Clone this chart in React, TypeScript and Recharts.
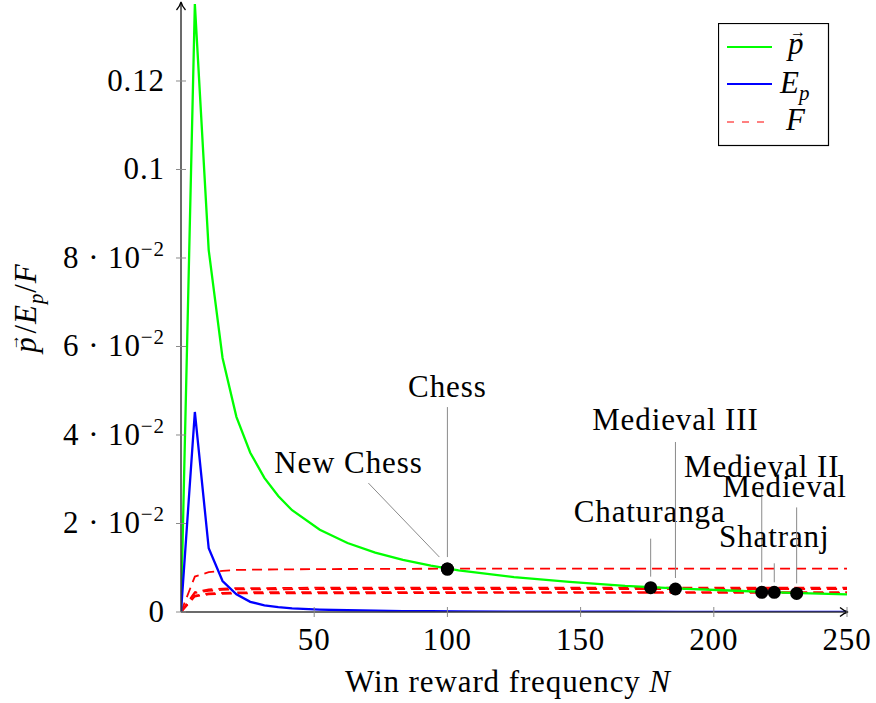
import React from 'react';
import { ComposedChart, Line, Scatter, XAxis, YAxis, ReferenceDot, Legend } from 'recharts';

// ---------- data ----------
const N_SAMPLES = [0, 5.2, 10.4, 15.6, 20.8, 26, 31.3, 36.5, 41.7, 52.1, 62.5, 72.9, 83.3, 93.8, 104.2, 125, 145.8, 166.7, 187.5, 208.3, 229.2, 250];
const P_VALUES = [0, 0.1374, 0.0818, 0.0574, 0.0441, 0.036, 0.0303, 0.0262, 0.023, 0.0186, 0.0156, 0.0134, 0.0118, 0.0105, 0.0094, 0.0079, 0.0068, 0.0059, 0.0053, 0.0048, 0.0043, 0.0040];
const EP_VALUES = [0, 0.0452, 0.0144, 0.0070, 0.0040, 0.0023, 0.0015, 0.0011, 0.0008, 0.00055, 0.0004, 0.0003, 0.00022, 0.00018, 0.00015, 0.0001, 0.00008, 0.00006, 0.00005, 0.00004, 0.00003, 0.00003];

const F_N = [0, 5.2, 10.4, 15.6, 20.8, 31.3, 52.1, 104.2, 250];
const F_CHESS = [0, 0.0080, 0.0090, 0.0093, 0.0095, 0.0096, 0.0097, 0.0098, 0.0098];
const F_CHATURANGA = [0, 0.0045, 0.0051, 0.0053, 0.0054, 0.0054, 0.0055, 0.0055, 0.0055];
const F_MEDIEVAL3 = [0, 0.0043, 0.0048, 0.0050, 0.0051, 0.0051, 0.0052, 0.0052, 0.0052];
const F_MEDIEVAL2 = [0, 0.0037, 0.0042, 0.0043, 0.0044, 0.0045, 0.0045, 0.0045, 0.0045];
const F_MEDIEVAL = [0, 0.0035, 0.0040, 0.0041, 0.0042, 0.0042, 0.0042, 0.0043, 0.0043];

const GAME_NAMES = ['New Chess', 'Chess', 'Chaturanga', 'Medieval III', 'Medieval II', 'Shatranj', 'Medieval'];
const GAME_N = [100, 100, 176.3, 185.6, 218, 222.7, 231.1];
const GAME_F = [0.0097, 0.0097, 0.0055, 0.0052, 0.00445, 0.00445, 0.0042];

const X_TICKS = [50, 100, 150, 200, 250];
const Y_TICKS = [0, 0.02, 0.04, 0.06, 0.08, 0.1, 0.12];
const Y_TICK_BASE = ['0', '2 · 10', '4 · 10', '6 · 10', '8 · 10', '0.1', '0.12'];
const Y_TICK_EXP = ['', '−2', '−2', '−2', '−2', '', ''];
const X_MAX = 250;
const Y_MAX = 0.1374;

// ---------- layout / style (pixels) ----------
const PIN_LAYOUT: Record<string, { lx: number; ly: number; p1: [number, number]; p2: [number, number] }> = {
  'New Chess': { lx: -99, ly: -106, p1: [-8, -12], p2: [-79, -86] },
  'Chess': { lx: 0, ly: -182, p1: [0, -12], p2: [0, -162] },
  'Chaturanga': { lx: -1, ly: -76, p1: [0, -11], p2: [0, -49] },
  'Medieval III': { lx: 0, ly: -169, p1: [0, -11], p2: [0, -147] },
  'Medieval II': { lx: 0, ly: -125, p1: [0, -10], p2: [0, -105] },
  'Shatranj': { lx: 0, ly: -55, p1: [0, -10], p2: [0, -29] },
  'Medieval': { lx: -12, ly: -106, p1: [0, -10], p2: [0, -86] },
};

const FONT = "'Liberation Serif', 'DejaVu Serif', serif";
const FS = 31;
const LS = 0.9;

const zip = (xs: number[], ys: number[]) => xs.map((n, i) => ({ n, v: ys[i] }));
const pData = zip(N_SAMPLES, P_VALUES);
const epData = zip(N_SAMPLES, EP_VALUES);
const fSeries = [F_CHESS, F_CHATURANGA, F_MEDIEVAL3, F_MEDIEVAL2, F_MEDIEVAL].map((s) => zip(F_N, s));
const games = GAME_NAMES.map((name, i) => ({ name, n: GAME_N[i], v: GAME_F[i] }));

const XTick = (props: any) => {
  const { x, y, payload } = props;
  return (
    <g>
      <line x1={x} x2={x} y1={y - 5} y2={y + 5} stroke="#8a8a8a" strokeWidth={1} />
      <text x={x} y={y + 38} textAnchor="middle" fontFamily={FONT} fontSize={FS} letterSpacing={LS} fill="#000">
        {payload.value}
      </text>
    </g>
  );
};

const YTick = (props: any) => {
  const { x, y, payload } = props;
  const i = Y_TICKS.findIndex((t) => Math.abs(t - payload.value) < 1e-9);
  const base = Y_TICK_BASE[i] ?? String(payload.value);
  const exp = Y_TICK_EXP[i] ?? '';
  return (
    <g>
      <line x1={x - 5} x2={x + 5} y1={y} y2={y} stroke="#8a8a8a" strokeWidth={1} />
      <text x={x - 16} y={y + 10} textAnchor="end" fontFamily={FONT} fontSize={FS} letterSpacing={LS} fill="#000">
        <tspan>{base}</tspan>
        {exp ? (
          <tspan dy={-12} fontSize={21}>
            {exp}
          </tspan>
        ) : null}
      </text>
    </g>
  );
};

const GameMarker = (props: any) => {
  const { cx, cy, payload } = props;
  const lay = PIN_LAYOUT[payload.name];
  return (
    <g>
      {lay ? (
        <>
          <line
            x1={cx + lay.p1[0]}
            y1={cy + lay.p1[1]}
            x2={cx + lay.p2[0]}
            y2={cy + lay.p2[1]}
            stroke="#8a8a8a"
            strokeWidth={1}
          />
          <text
            x={cx + lay.lx}
            y={cy + lay.ly + 10}
            textAnchor="middle"
            fontFamily={FONT}
            fontSize={FS}
            letterSpacing={LS}
            fill="#000"
          >
            {payload.name}
          </text>
        </>
      ) : null}
      <circle cx={cx} cy={cy} r={6.5} fill="#000" />
    </g>
  );
};

const XArrow = (props: any) => {
  const { cx, cy } = props;
  return (
    <path
      d={`M ${cx - 7} ${cy - 4.5} Q ${cx - 3} ${cy - 1} ${cx + 1} ${cy} Q ${cx - 3} ${cy + 1} ${cx - 7} ${cy + 4.5}`}
      fill="none"
      stroke="#000"
      strokeWidth={1.3}
    />
  );
};

const YArrow = (props: any) => {
  const { cx, cy } = props;
  return (
    <path
      d={`M ${cx - 4.5} ${cy + 6} Q ${cx - 1} ${cy + 2} ${cx} ${cy - 2} Q ${cx + 1} ${cy + 2} ${cx + 4.5} ${cy + 6}`}
      fill="none"
      stroke="#000"
      strokeWidth={1.3}
    />
  );
};

const YLabel = (props: any) => {
  const vb = props.viewBox || { x: 0, y: 0, width: 181, height: 608 };
  const cx = vb.x + 36;
  const cy = vb.y + vb.height / 2;
  return (
    <text
      x={cx}
      y={cy}
      transform={`rotate(-90, ${cx}, ${cy})`}
      textAnchor="middle"
      fontFamily={FONT}
      fontSize={FS}
      letterSpacing={LS}
      fill="#000"
    >
      <tspan x={cx} fontStyle="italic">p</tspan>
      <tspan dx={-14} dy={-17} fontSize={16}>→</tspan>
      <tspan dx={0} dy={17}>/</tspan>
      <tspan fontStyle="italic">E</tspan>
      <tspan dy={7} fontSize={21} fontStyle="italic">p</tspan>
      <tspan dy={-7}>/</tspan>
      <tspan fontStyle="italic">F</tspan>
    </text>
  );
};

const XLabel = (props: any) => {
  const vb = props.viewBox || { x: 181, y: 612, width: 666, height: 91 };
  const cx = vb.x + vb.width / 2 - 6;
  return (
    <text x={cx} y={vb.y + 80} textAnchor="middle" fontFamily={FONT} fontSize={FS} letterSpacing={LS} fill="#000">
      <tspan>Win reward frequency </tspan>
      <tspan fontStyle="italic">N</tspan>
    </text>
  );
};

const LegendBox = () => (
  <svg width={112} height={124} style={{ display: 'block' }}>
    <rect x={0.5} y={0.5} width={110} height={122} fill="#fff" stroke="#000" strokeWidth={1.2} />
    <line x1={9} x2={54} y1={24} y2={24} stroke="#00ff00" strokeWidth={2} />
    <line x1={9} x2={54} y1={61} y2={61} stroke="#0000ff" strokeWidth={2} />
    <line x1={9} x2={54} y1={99} y2={99} stroke="#ff0000" strokeWidth={1} strokeDasharray="7 8" />
    <text x={70} y={31} fontFamily={FONT} fontSize={FS} fontStyle="italic" fill="#000">p</text>
    <text x={72} y={14} fontFamily={FONT} fontSize={16} fill="#000">→</text>
    <text x={62} y={70} fontFamily={FONT} fontSize={FS} fill="#000">
      <tspan fontStyle="italic">E</tspan>
      <tspan dy={7} fontSize={21} fontStyle="italic">p</tspan>
    </text>
    <text x={68} y={107} fontFamily={FONT} fontSize={FS} fontStyle="italic" fill="#000">F</text>
  </svg>
);

export default function App() {
  return (
    <div style={{ position: 'absolute', left: 0, top: 0, width: 876, height: 703, background: '#fff' }}>
      <ComposedChart width={876} height={703} margin={{ top: 4, right: 29, bottom: 0, left: 0 }}>
        <XAxis
          type="number"
          dataKey="n"
          domain={[0, X_MAX]}
          ticks={X_TICKS}
          allowDataOverflow
          height={91}
          tickSize={0}
          tickMargin={0}
          tickLine={false}
          axisLine={{ stroke: '#3a3a3a', strokeWidth: 1.5 }}
          tick={<XTick />}
          label={<XLabel />}
        />
        <YAxis
          type="number"
          dataKey="v"
          domain={[0, Y_MAX]}
          ticks={Y_TICKS}
          allowDataOverflow
          width={181}
          tickSize={0}
          tickMargin={0}
          tickLine={false}
          axisLine={{ stroke: '#3a3a3a', strokeWidth: 1.5 }}
          tick={<YTick />}
          label={<YLabel />}
        />
        <Legend
          layout="horizontal"
          verticalAlign="middle"
          align="center"
          content={() => <LegendBox />}
          wrapperStyle={{ position: 'absolute', left: 718, top: 23, width: 112, height: 124 }}
        />
        {fSeries.map((d, i) => (
          <Line
            key={'f' + i}
            data={d}
            dataKey="v"
            type="linear"
            stroke="#ff0000"
            strokeWidth={1.8}
            strokeDasharray="10 6"
            dot={false}
            activeDot={false}
            isAnimationActive={false}
            legendType="none"
          />
        ))}
        <Line
          data={pData}
          dataKey="v"
          type="linear"
          stroke="#00ff00"
          strokeWidth={2.3}
          dot={false}
          activeDot={false}
          isAnimationActive={false}
        />
        <Line
          data={epData}
          dataKey="v"
          type="linear"
          stroke="#0000ff"
          strokeWidth={2.3}
          dot={false}
          activeDot={false}
          isAnimationActive={false}
        />
        <Scatter data={games} dataKey="v" shape={<GameMarker />} isAnimationActive={false} />
        <ReferenceDot x={X_MAX} y={0} ifOverflow="visible" shape={<XArrow />} />
        <ReferenceDot x={0} y={Y_MAX} ifOverflow="visible" shape={<YArrow />} />
      </ComposedChart>
    </div>
  );
}
